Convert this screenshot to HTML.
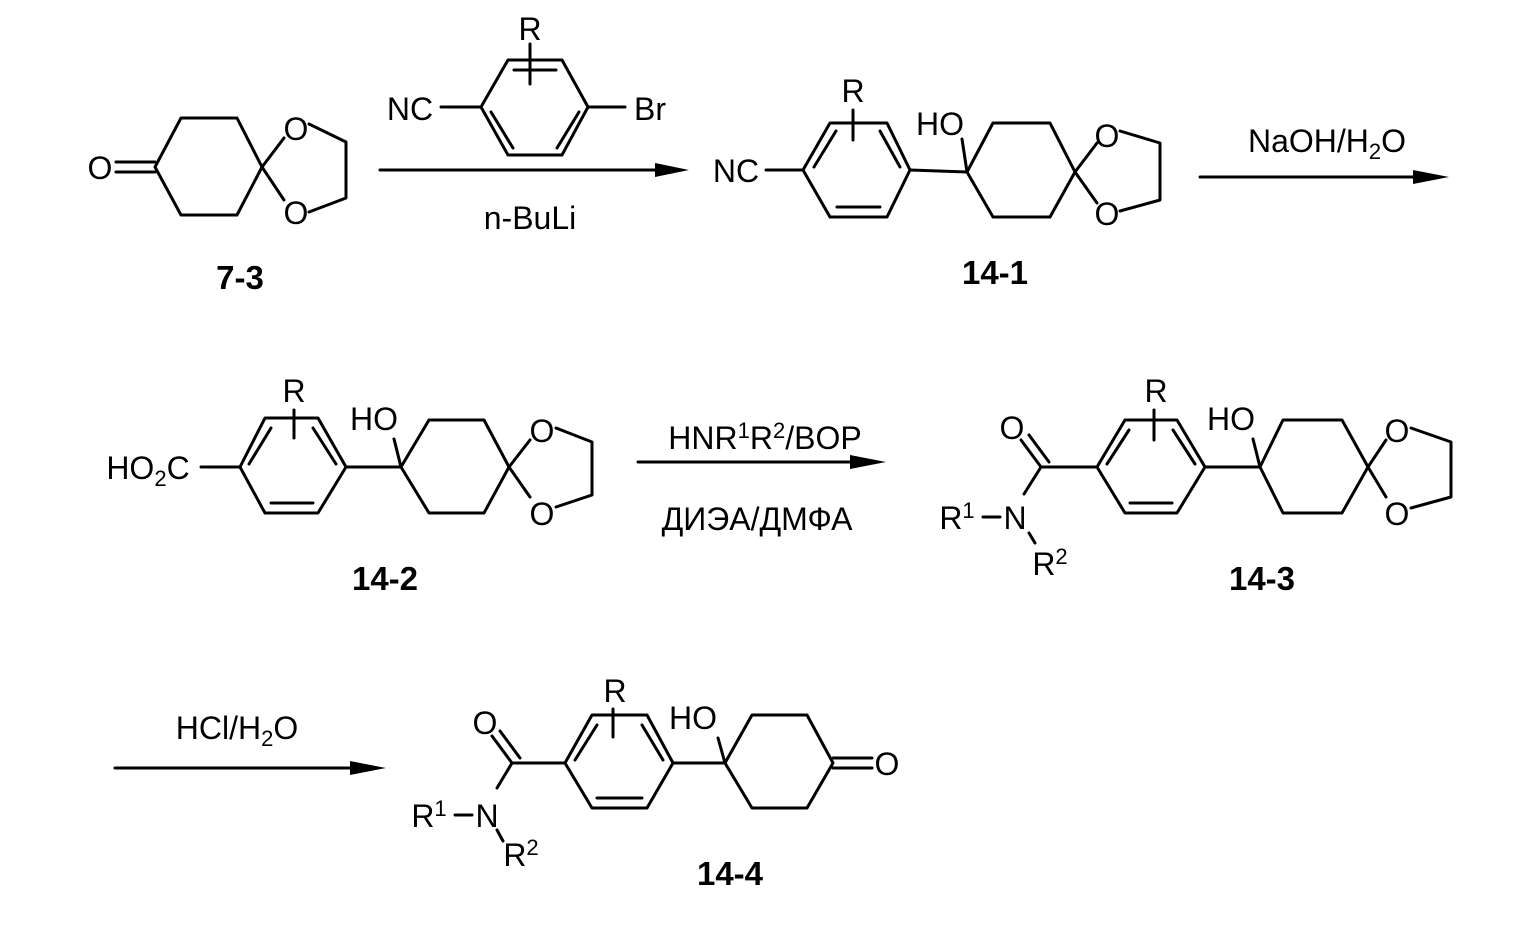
<!DOCTYPE html>
<html><head><meta charset="utf-8"><style>
html,body{margin:0;padding:0;background:#fff;}
svg{display:block;}
text{font-family:"Liberation Sans",Arial,sans-serif;font-size:32px;fill:#000;text-anchor:middle;}
.lb{font-weight:bold;font-size:33px;}
line,polyline,polygon.r{stroke:#000;stroke-width:3;fill:none;stroke-linecap:round;stroke-linejoin:round;}
.ah{fill:#000;stroke:none;}
</style></head><body>
<svg width="1531" height="925" viewBox="0 0 1531 925" xmlns="http://www.w3.org/2000/svg">
<!-- 7-3 -->
<text x="100" y="179">O</text>
<line x1="116" y1="162" x2="155" y2="162"/><line x1="116" y1="172" x2="155" y2="172"/>
<polygon class="r" points="155,167 181,118 237,118 262,167 237,215 181,215"/>
<line x1="262" y1="167" x2="284" y2="138"/><line x1="262" y1="167" x2="284" y2="200"/>
<text x="296" y="140">O</text><text x="296" y="224">O</text>
<polyline points="309,124 346,142 346,198 309,212"/>
<text class="lb" x="240" y="289">7-3</text>
<!-- reagent -->
<polygon class="r" points="481,107 508,60 562,60 588,107 562,155 508,155"/>
<line x1="514" y1="70" x2="556" y2="70"/>
<line x1="530" y1="44" x2="530" y2="84"/>
<line x1="491" y1="112" x2="513" y2="148"/><line x1="579" y1="112" x2="557" y2="148"/>
<text x="530" y="40">R</text>
<text x="410" y="120">NC</text><line x1="441" y1="107" x2="481" y2="107"/>
<text x="650" y="120">Br</text><line x1="588" y1="107" x2="625" y2="107"/>
<line x1="380" y1="170" x2="660" y2="170"/><polygon class="ah" points="655,163 689,170 655,177"/>
<text x="530" y="229">n-BuLi</text>
<!-- 14-1 -->
<polygon class="r" points="803,170 830,123 887,123 910,170 887,217 830,217"/>
<line x1="814" y1="167" x2="836" y2="131"/><line x1="880" y1="131" x2="900" y2="167"/>
<line x1="837" y1="207" x2="880" y2="207"/>
<text x="853" y="102">R</text><line x1="853" y1="110" x2="853" y2="140"/>
<text x="736" y="182">NC</text><line x1="766" y1="170" x2="803" y2="170"/>
<line x1="910" y1="170" x2="967" y2="172"/>
<polygon class="r" points="967,172 993,123 1050,123 1075,172 1050,217 993,217"/>
<text x="940" y="135">HO</text><line x1="962" y1="139" x2="967" y2="172"/>
<line x1="1075" y1="172" x2="1097" y2="143"/><line x1="1075" y1="172" x2="1097" y2="203"/>
<text x="1107" y="147">O</text><text x="1107" y="225">O</text>
<polyline points="1120,131 1160,143 1160,200 1120,211"/>
<text class="lb" x="995" y="284">14-1</text>
<!-- arrow 2 -->
<text x="1327" y="152">NaOH/H<tspan font-size="22" dy="7">2</tspan><tspan dy="-7">O</tspan></text>
<line x1="1200" y1="177" x2="1420" y2="177"/><polygon class="ah" points="1413,170 1449,177 1413,184"/>
<!-- 14-2 -->
<text x="148" y="479">HO<tspan font-size="22" dy="7">2</tspan><tspan dy="-7">C</tspan></text>
<line x1="201" y1="467" x2="240" y2="467"/>
<polygon class="r" points="240,467 265,418 318,418 346,467 318,513 265,513"/>
<line x1="249" y1="464" x2="271" y2="428"/><line x1="313" y1="428" x2="336" y2="464"/>
<line x1="271" y1="503" x2="313" y2="503"/>
<text x="294" y="402">R</text><line x1="294" y1="410" x2="294" y2="438"/>
<line x1="346" y1="467" x2="401" y2="467"/>
<polygon class="r" points="401,467 429,420 484,420 509,467 484,513 429,513"/>
<text x="374" y="430">HO</text><line x1="394" y1="439" x2="401" y2="467"/>
<line x1="509" y1="467" x2="530" y2="440"/><line x1="509" y1="467" x2="530" y2="497"/>
<text x="542" y="442">O</text><text x="542" y="525">O</text>
<polyline points="556,428 592,442 592,495 556,507"/>
<text class="lb" x="385" y="590">14-2</text>
<!-- arrow 3 -->
<text x="765" y="449">HNR<tspan font-size="22" dy="-11">1</tspan><tspan dy="11">R</tspan><tspan font-size="22" dy="-11">2</tspan><tspan dy="11">/BOP</tspan></text>
<line x1="638" y1="462" x2="855" y2="462"/><polygon class="ah" points="850,455 886,462 850,469"/>
<text x="757" y="530">ДИЭА/ДМФА</text>
<!-- 14-3 -->
<text x="1012" y="439">O</text>
<line x1="1041" y1="467" x2="1021" y2="440"/><line x1="1049" y1="462" x2="1029" y2="435"/>
<line x1="1041" y1="467" x2="1097" y2="467"/>
<line x1="1041" y1="467" x2="1024" y2="494"/>
<text x="1015" y="529">N</text>
<text x="957" y="529">R<tspan font-size="22" dy="-11">1</tspan></text>
<line x1="983" y1="517" x2="1000" y2="517"/>
<line x1="1029" y1="533" x2="1035" y2="543"/>
<text x="1050" y="575">R<tspan font-size="22" dy="-11">2</tspan></text>
<polygon class="r" points="1097,467 1125,420 1177,420 1205,467 1177,513 1125,513"/>
<line x1="1107" y1="464" x2="1129" y2="430"/><line x1="1173" y1="430" x2="1195" y2="464"/>
<line x1="1130" y1="503" x2="1172" y2="503"/>
<text x="1156" y="402">R</text><line x1="1154" y1="410" x2="1154" y2="440"/>
<line x1="1205" y1="467" x2="1260" y2="467"/>
<polygon class="r" points="1260,467 1283,420 1342,420 1368,467 1342,513 1283,513"/>
<text x="1231" y="430">HO</text><line x1="1253" y1="439" x2="1260" y2="467"/>
<line x1="1368" y1="467" x2="1386" y2="440"/><line x1="1368" y1="467" x2="1386" y2="497"/>
<text x="1397" y="442">O</text><text x="1397" y="525">O</text>
<polyline points="1411,428 1451,442 1451,497 1411,508"/>
<text class="lb" x="1262" y="590">14-3</text>
<!-- arrow 4 -->
<text x="237" y="739">HCl/H<tspan font-size="22" dy="7">2</tspan><tspan dy="-7">O</tspan></text>
<line x1="115" y1="768" x2="355" y2="768"/><polygon class="ah" points="350,761 386,768 350,775"/>
<!-- 14-4 -->
<text x="485" y="734">O</text>
<line x1="512" y1="763" x2="492" y2="736"/><line x1="520" y1="758" x2="500" y2="731"/>
<line x1="512" y1="763" x2="565" y2="763"/>
<line x1="512" y1="763" x2="497" y2="788"/>
<text x="487" y="827">N</text>
<text x="429" y="827">R<tspan font-size="22" dy="-11">1</tspan></text>
<line x1="455" y1="815" x2="472" y2="815"/>
<line x1="497" y1="830" x2="503" y2="841"/>
<text x="521" y="866">R<tspan font-size="22" dy="-11">2</tspan></text>
<polygon class="r" points="565,763 592,715 647,715 673,763 647,808 592,808"/>
<line x1="575" y1="760" x2="597" y2="725"/><line x1="642" y1="725" x2="663" y2="760"/>
<line x1="597" y1="798" x2="642" y2="798"/>
<text x="615" y="702">R</text><line x1="613" y1="709" x2="613" y2="737"/>
<line x1="673" y1="763" x2="725" y2="763"/>
<polygon class="r" points="725,763 752,715 807,715 833,763 807,808 752,808"/>
<text x="693" y="729">HO</text><line x1="718" y1="738" x2="725" y2="763"/>
<line x1="833" y1="758" x2="872" y2="758"/><line x1="833" y1="768" x2="872" y2="768"/>
<text x="887" y="775">O</text>
<text class="lb" x="730" y="885">14-4</text>
</svg>
</body></html>
